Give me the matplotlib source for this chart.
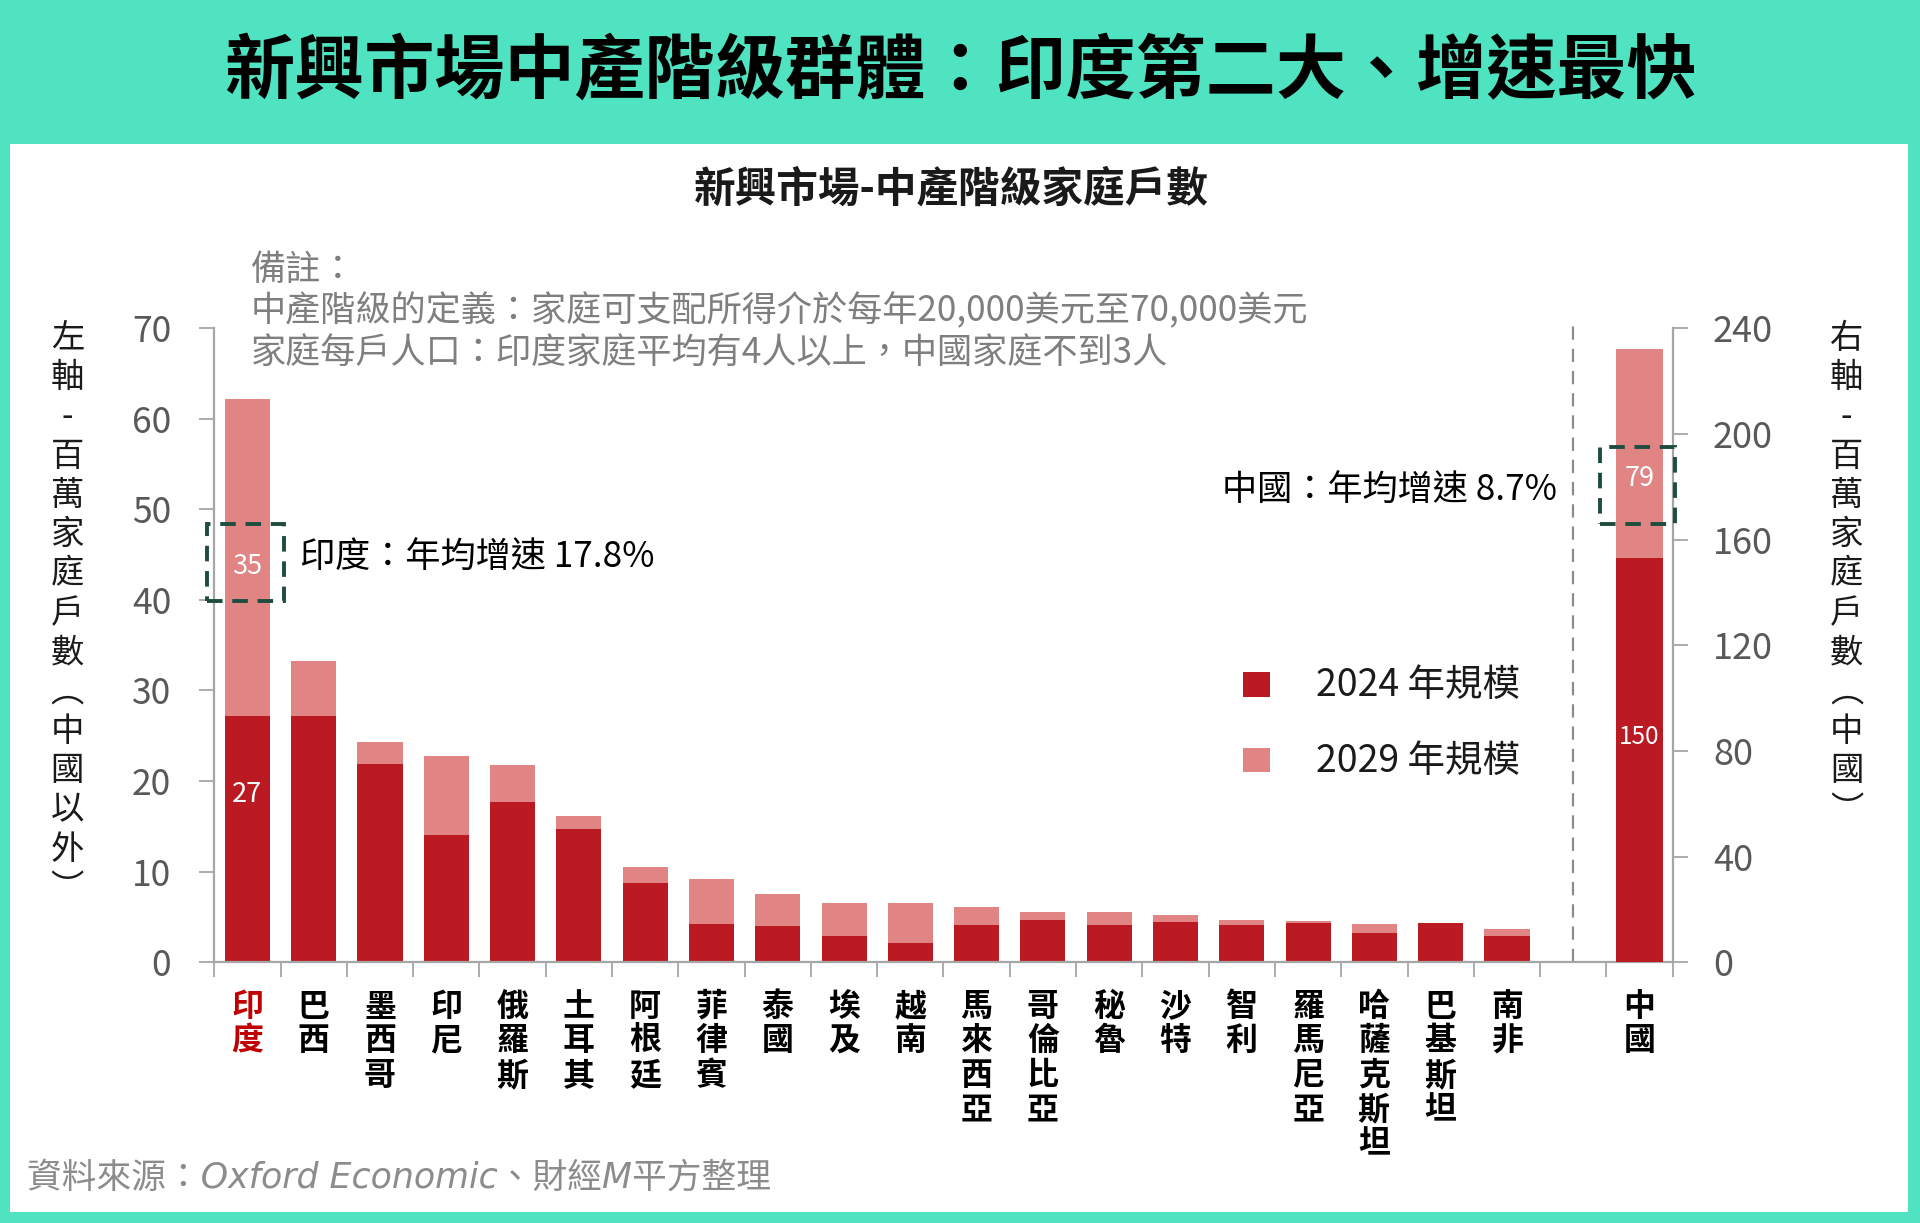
import matplotlib
matplotlib.use('Agg')
import matplotlib.pyplot as plt
from matplotlib.patches import Rectangle
from matplotlib.transforms import blended_transform_factory
import numpy as np

plt.rcParams['font.family'] = ['Noto Sans CJK TC', 'DejaVu Sans']

# ---------------- data ----------------
countries = ['印度', '巴西', '墨西哥', '印尼', '俄羅斯', '土耳其', '阿根廷', '菲律賓', '泰國', '埃及',
             '越南', '馬來西亞', '哥倫比亞', '秘魯', '沙特', '智利', '羅馬尼亞', '哈薩克斯坦', '巴基斯坦', '南非']
v2024 = [27.2, 27.2, 21.9, 14.0, 17.7, 14.7, 8.8, 4.2, 4.0, 2.9,
         2.1, 4.1, 4.7, 4.1, 4.4, 4.1, 4.3, 3.2, 4.3, 2.9]
v2029 = [62.2, 33.2, 24.3, 22.8, 21.8, 16.1, 10.5, 9.2, 7.5, 6.5,
         6.5, 6.1, 5.6, 5.6, 5.2, 4.7, 4.5, 4.2, 4.3, 3.7]
china_name = '中國'
china_2024 = 153
china_2029 = 232
left_ticks = [0, 10, 20, 30, 40, 50, 60, 70]
right_ticks = [0, 40, 80, 120, 160, 200, 240]
india_labels = ['27', '35']
china_labels = ['150', '79']
india_note = '印度：年均增速 17.8%'
china_note = '中國：年均增速 8.7%'
series_names = ['2024 年規模', '2029 年規模']
title = '新興市場中產階級群體：印度第二大、增速最快'
subtitle = '新興市場-中產階級家庭戶數'
notes = ['備註：', '中產階級的定義：家庭可支配所得介於每年20,000美元至70,000美元',
         '家庭每戶人口：印度家庭平均有4人以上，中國家庭不到3人']
left_label = '左軸-百萬家庭戶數︵中國以外︶'
right_label = '右軸-百萬家庭戶數︵中國︶'
source = '資料來源：Oxford Economic、財經M平方整理'

# ---------------- style ----------------
TEAL = '#50E3C2'
DARK = '#BB1A22'
PINK = '#E08484'
BOXC = '#1E4D40'
AXC = '#A6A6A6'
TICKLAB = '#595959'

fig = plt.figure(figsize=(19.2, 12.23), dpi=100)
fig.patch.set_facecolor(TEAL)
# white panel
fig.patches.append(Rectangle((0.0051, 0.009), 0.9885, 0.873, transform=fig.transFigure,
                             facecolor='white', edgecolor='none', zorder=-5))

fig.text(0.5, 0.941, title, ha='center', va='center', fontsize=50.5, fontweight='bold', color='black')
fig.text(0.4955, 0.845, subtitle, ha='center', va='center', fontsize=30, fontweight='bold', color='#1a1a1a')
for i, (line, yc) in enumerate(zip(notes, [220, 254, 289])):
    fig.text(0.1307, 1 - yc / 999, line, ha='left', va='center', fontsize=25.3, color='#7F7F7F')

ax = fig.add_axes([0.1116, 0.2132, 0.7596, 0.5185])
ax.set_facecolor('none')
n = len(countries)
x = np.arange(n)
china_x = n + 1
w = 0.68
inc = [b - a for a, b in zip(v2024, v2029)]
ax.bar(x, v2024, width=w, color=DARK, zorder=2)
ax.bar(x, inc, bottom=v2024, width=w, color=PINK, zorder=2)
ax.set_xlim(-0.5, china_x + 0.5)
ax.set_ylim(0, 70)
ax.set_yticks(left_ticks)
ax.set_xticks(np.arange(-0.5, china_x + 1, 1.0))
ax.set_xticklabels([])
for s in ['top', 'right']:
    ax.spines[s].set_visible(False)
for s in ['left', 'bottom']:
    ax.spines[s].set_color(AXC)
    ax.spines[s].set_linewidth(1.6)
ax.tick_params(axis='x', length=11, width=1.3, color=AXC, direction='out')
ax.tick_params(axis='y', length=11, width=1.3, color=AXC, direction='out', pad=20,
               labelsize=25.5, labelcolor=TICKLAB)

ax2 = ax.twinx()
ax2.bar([china_x], [china_2024], width=w + 0.02, color=DARK, zorder=2)
ax2.bar([china_x], [china_2029 - china_2024], bottom=[china_2024], width=w + 0.02, color=PINK, zorder=2)
ax2.set_ylim(0, 240)
ax2.set_yticks(right_ticks)
for s in ['top', 'left', 'bottom']:
    ax2.spines[s].set_visible(False)
ax2.spines['right'].set_color(AXC)
ax2.spines['right'].set_linewidth(1.6)
ax2.tick_params(axis='y', length=11, width=1.3, color=AXC, direction='out', pad=18,
                labelsize=26, labelcolor=TICKLAB)

# dashed separator
ax.axvline(n, ymin=0, ymax=1.005, color='#8C8C8C', lw=1.6, ls=(0, (6, 4)), clip_on=False, zorder=1)

# category labels (vertical stacked)
trans = blended_transform_factory(ax.transData, ax.transAxes)
for i, name in enumerate(countries + [china_name]):
    xi = i if i < n else china_x
    ax.text(xi, -0.045, '\n'.join(name), transform=trans, ha='center', va='top',
            fontsize=23, linespacing=1.1, color='#C00000' if i == 0 else 'black',
            fontweight='bold')

# in-bar labels
ax.text(0, v2024[0] * 0.68, india_labels[0], ha='center', va='center', color='white', fontsize=19.5, zorder=5)
ax.text(0, v2024[0] + inc[0] * 0.47, india_labels[1], ha='center', va='center', color='white', fontsize=19.5, zorder=5)
ax2.text(china_x, china_2024 * 0.557, china_labels[0], ha='center', va='center', color='white', fontsize=17.5, zorder=5)
ax2.text(china_x, china_2024 + (china_2029 - china_2024) * 0.38, china_labels[1], ha='center', va='center',
         color='white', fontsize=19.5, zorder=5)

# dashed boxes
ax.add_patch(Rectangle((-0.611, 39.9), 1.164, 8.5, fill=False, edgecolor=BOXC, lw=2.8,
                       ls=(0, (4, 2.5)), clip_on=False, zorder=6))
ax2.add_patch(Rectangle((china_x - 0.59, 166), 1.13, 29, fill=False, edgecolor=BOXC, lw=2.8,
                        ls=(0, (4, 2.5)), clip_on=False, zorder=6))

ax.text(0.79, 44.6, india_note, ha='left', va='center', fontsize=25.3, color='black')
ax.text(19.76, 52.0, china_note, ha='right', va='center', fontsize=25.3, color='black')

# legend (manual)
for col, lab, yc in zip([DARK, PINK], series_names, [559, 621]):
    fig.patches.append(Rectangle((1015 / 1568, 1 - (yc + 10) / 999), 22 / 1568, 20 / 999,
                                 transform=fig.transFigure, facecolor=col, edgecolor='none', zorder=3))
    fig.text(1075 / 1568, 1 - (yc + 1) / 999, lab, ha='left', va='center', fontsize=27, color='#1a1a1a')

# axis titles (vertical stacked)
fig.text(55 / 1568, 1 - 262 / 999, '\n'.join(left_label), ha='center', va='top', fontsize=24,
         linespacing=1.16, color='#1a1a1a')
fig.text(1508 / 1568, 1 - 262 / 999, '\n'.join(right_label), ha='center', va='top', fontsize=24,
         linespacing=1.16, color='#1a1a1a')

fig.text(22 / 1568, 1 - 962 / 999, source, ha='left', va='center', fontsize=25, color='#8C8C8C',
         style='italic', family=['DejaVu Sans', 'Noto Sans CJK TC'])

fig.savefig('out.png', dpi=100, facecolor=fig.get_facecolor())
